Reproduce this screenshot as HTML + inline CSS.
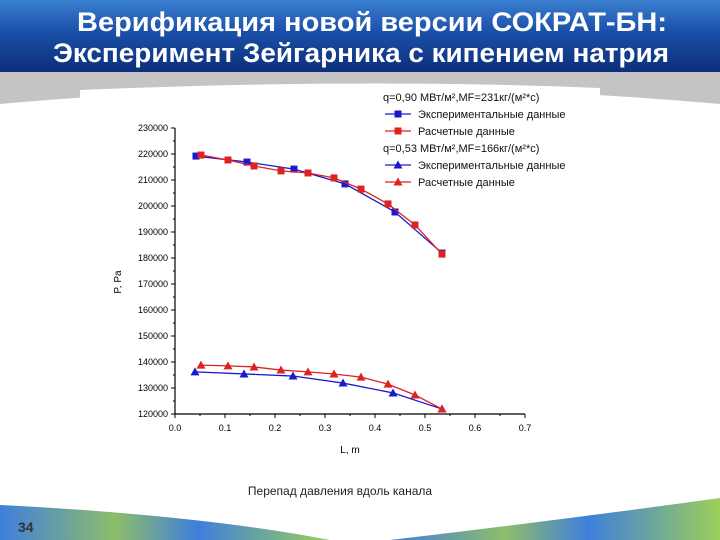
<!DOCTYPE html>
<html><head><meta charset="utf-8"><style>
body{margin:0;width:720px;height:540px;overflow:hidden;background:#fff;font-family:"Liberation Sans",sans-serif}
</style></head><body>
<svg width="720" height="540" style="position:absolute;left:0;top:0">
<defs>
<linearGradient id="hdr" x1="0" y1="0" x2="0" y2="1"><stop offset="0" stop-color="#3a7fd0"/><stop offset="0.45" stop-color="#1a4fa8"/><stop offset="1" stop-color="#0c2f7a"/></linearGradient>
<linearGradient id="ftr" x1="0" y1="0" x2="1" y2="0"><stop offset="0" stop-color="#3f7fdc"/><stop offset="0.35" stop-color="#8ebd6a"/><stop offset="0.6" stop-color="#3f7fdc"/><stop offset="1" stop-color="#9ccf5a"/></linearGradient>
</defs>
<rect x="0" y="0" width="720" height="72" fill="url(#hdr)"/>
<rect x="0" y="72" width="720" height="34" fill="#c4c4c4"/>
<path d="M0,104 Q360,72 720,104 L720,110 L0,110 Z" fill="#fff"/>
<path d="M80,90 Q360,78 600,88 L600,110 L80,110Z" fill="#fff"/>
<text x="372" y="31" text-anchor="middle" font-size="27" font-weight="bold" fill="#fff" textLength="590" lengthAdjust="spacingAndGlyphs">Верификация новой версии СОКРАТ-БН:</text>
<text x="361" y="62" text-anchor="middle" font-size="27" font-weight="bold" fill="#fff" textLength="616" lengthAdjust="spacingAndGlyphs">Эксперимент Зейгарника с кипением натрия</text>
<path d="M0,505 Q200,515 330,540 L0,540Z" fill="url(#ftr)"/>
<path d="M390,540 Q560,520 720,498 L720,540Z" fill="url(#ftr)"/>
<text x="18" y="532" font-size="14" font-weight="bold" fill="#333">34</text>
<text x="340" y="495" text-anchor="middle" font-size="12" fill="#222">Перепад давления вдоль  канала</text>
<g id="chart"></g>
</svg>
<script>
const xTicks=[0,0.1,0.2,0.3,0.4,0.5,0.6,0.7];
const yTicks=[120000,130000,140000,150000,160000,170000,180000,190000,200000,210000,220000,230000];
const expHighX=[0.042,0.144,0.238,0.34,0.44,0.534];
const expHighY=[219200,216900,214200,208500,197700,181900];
const calcHighX=[0.052,0.106,0.158,0.212,0.266,0.318,0.372,0.426,0.48,0.534];
const calcHighY=[219600,217700,215400,213500,212700,210800,206500,200800,192700,181500];
const expLowX=[0.04,0.138,0.236,0.336,0.436,0.534];
const expLowY=[136200,135400,134600,131900,128100,121900];
const calcLowX=[0.052,0.106,0.158,0.212,0.266,0.318,0.372,0.426,0.48,0.534];
const calcLowY=[138800,138500,138100,136900,136200,135400,134200,131500,127300,121900];
const NS='http://www.w3.org/2000/svg';
const g=document.getElementById('chart');
const X=v=>175+v*500, Y=v=>414-(v-120000)*0.0026;
function el(t,a,p){const e=document.createElementNS(NS,t);for(const k in a)e.setAttribute(k,a[k]);(p||g).appendChild(e);return e;}
let ax=el('line',{x1:175,y1:128,x2:175,y2:414,stroke:'#000','stroke-width':1.2});


ax=el('line',{x1:175,y1:414,x2:525,y2:414,stroke:'#000','stroke-width':1.2});


yTicks.forEach(v=>{el('line',{x1:171,y1:Y(v),x2:175,y2:Y(v),stroke:'#000'});
 if(v<230000)el('line',{x1:173,y1:Y(v+5000),x2:175,y2:Y(v+5000),stroke:'#000'});
 const t=el('text',{x:168,y:Y(v)+3,'text-anchor':'end','font-size':9,fill:'#000'});t.textContent=v;
 
 });
xTicks.forEach(v=>{el('line',{x1:X(v),y1:414,x2:X(v),y2:418,stroke:'#000'});
 if(v<0.7)el('line',{x1:X(v+0.05),y1:414,x2:X(v+0.05),y2:416,stroke:'#000'});
 const t=el('text',{x:X(v),y:431,'text-anchor':'middle','font-size':9,fill:'#000'});t.textContent=v.toFixed(1);
 
 });
let t=el('text',{x:350,y:453,'text-anchor':'middle','font-size':10});t.textContent='L, m';


t=el('text',{x:121,y:282,'text-anchor':'middle','font-size':10,transform:'rotate(-90 121 282)'});t.textContent='P, Pa';


function marker(x,y,shape,c,p){if(shape==='s')return el('rect',{x:x-3.5,y:y-3.5,width:7,height:7,fill:c},p);
 return el('path',{d:`M${x},${y-4.5}L${x+4.5},${y+3.5}L${x-4.5},${y+3.5}Z`,fill:c},p);}
function series(xs,ys,c,shape,name){const sg=el('g',{});
 
 
 el('polyline',{points:xs.map((v,i)=>X(v)+','+Y(ys[i])).join(' '),fill:'none',stroke:c,'stroke-width':1.3},sg);
 xs.forEach((v,i)=>{const m=marker(X(v),Y(ys[i]),shape,c,sg);
  
  });}
series(expHighX,expHighY,'#1a1acc','s','exp-high-series');
series(calcHighX,calcHighY,'#dd2222','s','calc-high-series');
series(expLowX,expLowY,'#1a1acc','t','exp-low-series');
series(calcLowX,calcLowY,'#dd2222','t','calc-low-series');
const lg=el('g',{});


const rows=[['q=0,90 МВт/м²,MF=231кг/(м²*с)',null],['Экспериментальные данные',['#1a1acc','s']],['Расчетные данные',['#dd2222','s']],['q=0,53 МВт/м²,MF=166кг/(м²*с)',null],['Экспериментальные данные',['#1a1acc','t']],['Расчетные данные',['#dd2222','t']]];
rows.forEach((r,i)=>{const y=97+i*17;
 if(r[1]){el('line',{x1:385,y1:y,x2:411,y2:y,stroke:r[1][0],'stroke-width':1.3},lg);marker(398,y,r[1][1],r[1][0],lg);}
 const tx=el('text',{x:r[1]?418:383,y:y+4,'font-size':11,fill:'#111'},lg);tx.textContent=r[0];
 
 });
</script>
</body></html>
